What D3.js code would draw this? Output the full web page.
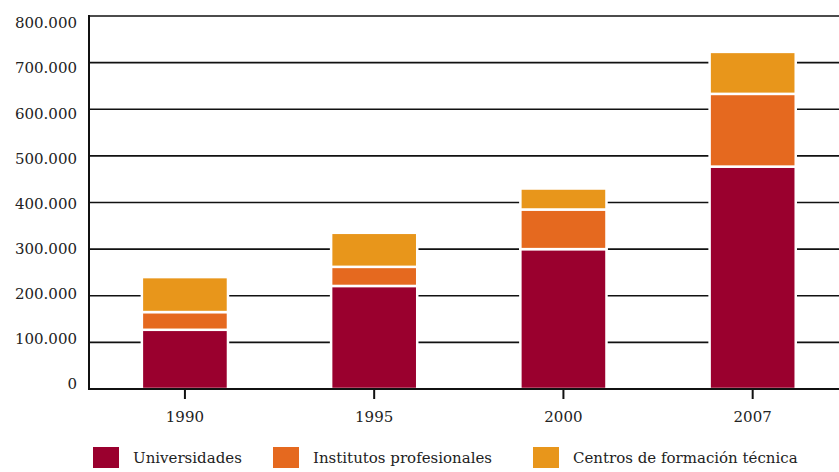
<!DOCTYPE html>
<html>
<head>
<meta charset="utf-8">
<script src="https://cdn.jsdelivr.net/npm/d3@7"></script>
<style>
  body { margin: 0; background: #fff; }
  text { font-family: "DejaVu Serif", "Liberation Serif", serif; fill: #222; }
</style>
</head>
<body>
<svg width="839" height="472"></svg>
<script>
var years = ["1990", "1995", "2000", "2007"];
var series = ["Universidades", "Institutos profesionales", "Centros de formación técnica"];
var universidades = [127000, 221000, 300000, 477000];
var institutos = [38000, 41000, 85000, 156000];
var centros = [75000, 73000, 45000, 90000];
var yTicks = [0, 100000, 200000, 300000, 400000, 500000, 600000, 700000, 800000];
var colors = ["#9a002e", "#e5691f", "#e8961b"];

var rows = years.map(function(y, i) {
    return {year: y, u: universidades[i], ip: institutos[i], cft: centros[i]};
});

var svg = d3.select("svg");
var plotLeft = 89, plotTop = 16, plotBottom = 389, plotRight = 839;

var x = d3.scaleBand().domain(years).range([90.3, 847.3]).paddingInner(0.545).paddingOuter(0.2725);
var y = d3.scaleLinear().domain([0, 800000]).range([plotBottom, plotTop]);
// labels in the source sit on a slightly tighter spacing than the grid
var yLab = d3.scaleLinear().domain([0, 800000]).range([384, 23]);

var fmt = function(d) { return d3.format(",")(d).replace(/,/g, "."); };

// grid
svg.append("g")
    .attr("class", "grid")
    .selectAll("line")
    .data(yTicks.slice(1))
    .enter().append("line")
        .attr("x1", plotLeft).attr("x2", plotRight)
        .attr("y1", function(d) { return y(d); })
        .attr("y2", function(d) { return y(d); })
        .attr("stroke", "#111")
        .attr("stroke-width", 1.6);

// stacked bars
var stack = d3.stack().keys(["u", "ip", "cft"]);
svg.append("g")
    .selectAll("g")
    .data(stack(rows))
    .enter().append("g")
        .attr("fill", function(d, i) { return colors[i]; })
    .selectAll("rect")
    .data(function(d) { return d; })
    .enter().append("rect")
        .attr("x", function(d) { return x(d.data.year); })
        .attr("y", function(d) { return y(d[1]); })
        .attr("width", x.bandwidth())
        .attr("height", function(d) { return y(d[0]) - y(d[1]); })
        .attr("stroke", "#fff")
        .attr("stroke-width", 2.5);

// y axis line + labels
svg.append("line")
    .attr("x1", plotLeft).attr("x2", plotLeft)
    .attr("y1", plotTop - 1).attr("y2", plotBottom)
    .attr("stroke", "#111").attr("stroke-width", 2);

svg.append("g")
    .attr("class", "y labels")
    .selectAll("text")
    .data(yTicks)
    .enter().append("text")
        .attr("x", 77)
        .attr("y", function(d) { return yLab(d); })
        .attr("dy", "0.35em")
        .attr("text-anchor", "end")
        .attr("font-size", 15)
        .text(fmt);

// x axis
var xAxis = svg.append("g")
    .attr("class", "x axis")
    .attr("transform", "translate(0," + plotBottom + ")")
    .call(d3.axisBottom(x).tickSize(10).tickPadding(12));
xAxis.select(".domain").remove();
xAxis.selectAll(".tick line").attr("stroke", "#111").attr("stroke-width", 2);
xAxis.selectAll(".tick text")
    .attr("font-size", 15)
    .attr("font-family", "DejaVu Serif")
    .attr("fill", "#222");

svg.append("line")
    .attr("x1", plotLeft - 1).attr("x2", plotRight)
    .attr("y1", plotBottom).attr("y2", plotBottom)
    .attr("stroke", "#111").attr("stroke-width", 2);

// legend
var legX = [93, 273, 533];
var leg = svg.append("g")
    .attr("class", "legend")
    .selectAll("g")
    .data(series)
    .enter().append("g")
        .attr("transform", function(d, i) { return "translate(" + legX[i] + ",447)"; });
leg.append("rect")
    .attr("width", 26).attr("height", 21)
    .attr("fill", function(d, i) { return colors[i]; });
leg.append("text")
    .attr("x", 40).attr("y", 16)
    .attr("font-size", 15)
    .text(function(d) { return d; });
</script>
</body>
</html>
